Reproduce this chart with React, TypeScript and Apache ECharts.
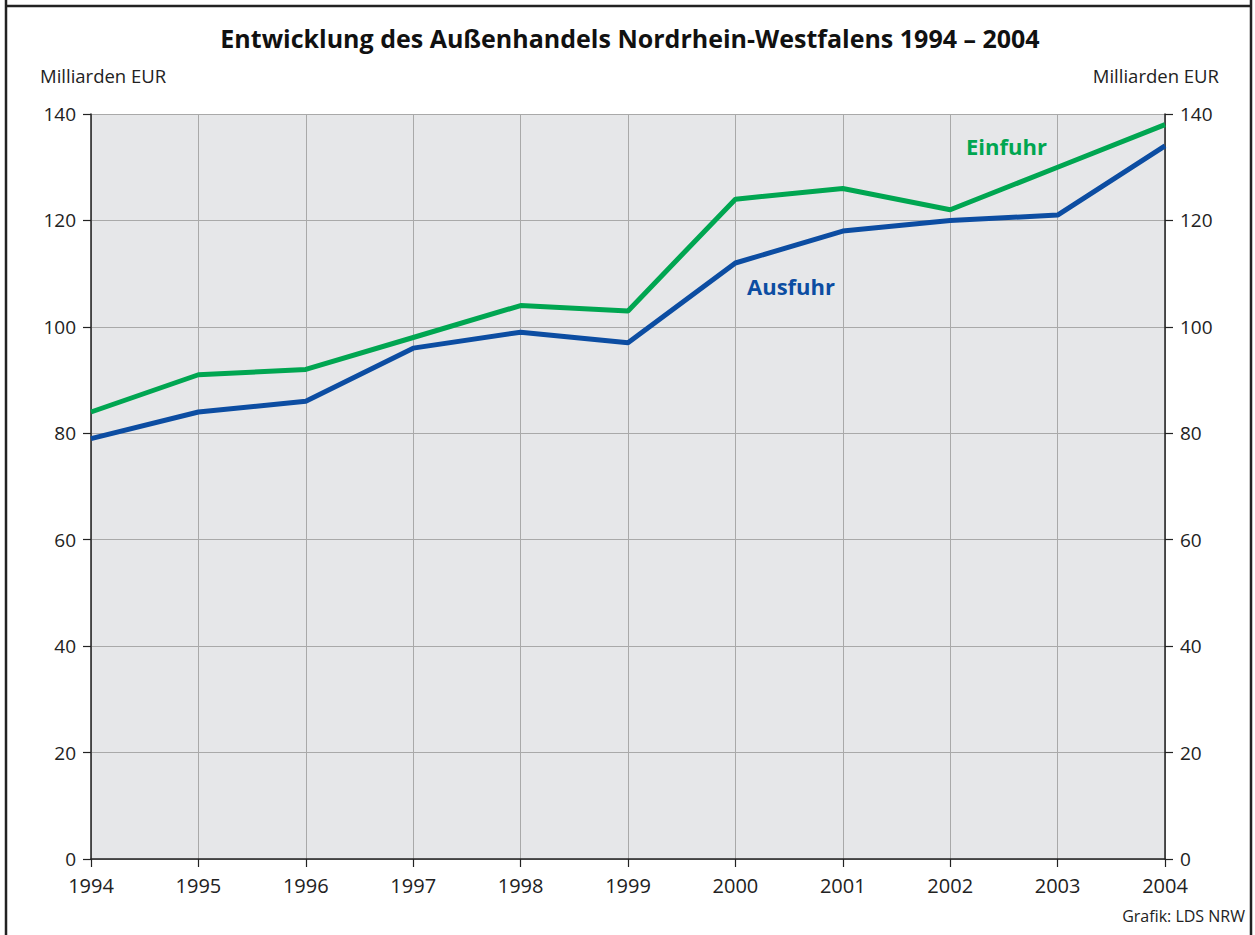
import React, { useEffect, useRef } from "react";
import * as echarts from "echarts";

const years = ["1994", "1995", "1996", "1997", "1998", "1999", "2000", "2001", "2002", "2003", "2004"];
const einfuhr = [84, 91, 92, 98, 104, 103, 124, 126, 122, 130, 138];
const ausfuhr = [79, 84, 86, 96, 99, 97, 112, 118, 120, 121, 134];
const title = "Entwicklung des Außenhandels Nordrhein-Westfalens 1994 – 2004";
const unitLabel = "Milliarden EUR";
const source = "Grafik: LDS NRW";

const FONT = "'Open Sans', 'Noto Sans', sans-serif";
const GREEN = "#00a651";
const BLUE = "#0c4da2";

export default function App() {
  const ref = useRef<HTMLDivElement>(null);
  useEffect(() => {
    document.body.style.margin = "0";
    const chart = echarts.init(ref.current!, null, { renderer: "svg" });
    const yAxisCommon = {
      type: "value",
      min: 0,
      max: 140,
      interval: 20,
      axisLine: { show: true, lineStyle: { color: "#222", width: 1.5 } },
      axisTick: { show: true, length: 8, lineStyle: { color: "#222", width: 1.2 } },
      axisLabel: { color: "#222", fontSize: 19, fontFamily: FONT, margin: 15 },
    };
    chart.setOption({
      animation: false,
      backgroundColor: "#fff",
      grid: {
        left: 91,
        right: 90,
        top: 114,
        bottom: 76,
        show: true,
        backgroundColor: "#e6e7e9",
        borderWidth: 0,
      },
      xAxis: {
        type: "category",
        data: years,
        boundaryGap: false,
        axisLine: { show: true, lineStyle: { color: "#222", width: 1.5 } },
        axisTick: { show: true, length: 8, lineStyle: { color: "#222", width: 1.2 } },
        axisLabel: { color: "#222", fontSize: 20, fontFamily: FONT, margin: 16 },
        splitLine: { show: true, lineStyle: { color: "#a9a9a9", width: 1 } },
      },
      yAxis: [
        {
          ...yAxisCommon,
          position: "left",
          splitLine: { show: true, lineStyle: { color: "#a9a9a9", width: 1 } },
        },
        {
          ...yAxisCommon,
          position: "right",
          splitLine: { show: false },
        },
      ],
      series: [
        {
          name: "Einfuhr",
          type: "line",
          data: einfuhr,
          symbol: "none",
          lineStyle: { color: GREEN, width: 5 },
          itemStyle: { color: GREEN },
          z: 3,
        },
        {
          name: "Ausfuhr",
          type: "line",
          data: ausfuhr,
          symbol: "none",
          lineStyle: { color: BLUE, width: 5 },
          itemStyle: { color: BLUE },
          z: 4,
        },
      ],
      graphic: [
        { type: "line", shape: { x1: 6, y1: 0, x2: 6, y2: 935 }, style: { stroke: "#222", lineWidth: 2.5 } },
        { type: "line", shape: { x1: 1251, y1: 0, x2: 1251, y2: 935 }, style: { stroke: "#222", lineWidth: 2.5 } },
        { type: "line", shape: { x1: 5, y1: 6, x2: 1252, y2: 6 }, style: { stroke: "#222", lineWidth: 2.5 } },
        {
          type: "text",
          x: 630,
          y: 38,
          style: {
            text: title,
            fontSize: 25,
            fontWeight: "bold",
            fontFamily: FONT,
            fill: "#111",
            align: "center",
            verticalAlign: "middle",
          },
        },
        {
          type: "text",
          x: 40,
          y: 75,
          style: { text: unitLabel, fontSize: 18.5, fontFamily: FONT, fill: "#222", align: "left", verticalAlign: "middle" },
        },
        {
          type: "text",
          x: 1219,
          y: 75,
          style: { text: unitLabel, fontSize: 18.5, fontFamily: FONT, fill: "#222", align: "right", verticalAlign: "middle" },
        },
        {
          type: "text",
          x: 966,
          y: 146,
          style: { text: "Einfuhr", fontSize: 22, fontWeight: "bold", fontFamily: FONT, fill: GREEN, align: "left", verticalAlign: "middle" },
        },
        {
          type: "text",
          x: 747,
          y: 286,
          style: { text: "Ausfuhr", fontSize: 22, fontWeight: "bold", fontFamily: FONT, fill: BLUE, align: "left", verticalAlign: "middle" },
        },
        {
          type: "text",
          x: 1245,
          y: 916,
          style: { text: source, fontSize: 16, fontFamily: FONT, fill: "#222", align: "right", verticalAlign: "middle" },
        },
      ],
    });
    return () => chart.dispose();
  }, []);
  return <div ref={ref} style={{ position: "absolute", left: 0, top: 0, width: 1255, height: 935 }} />;
}
